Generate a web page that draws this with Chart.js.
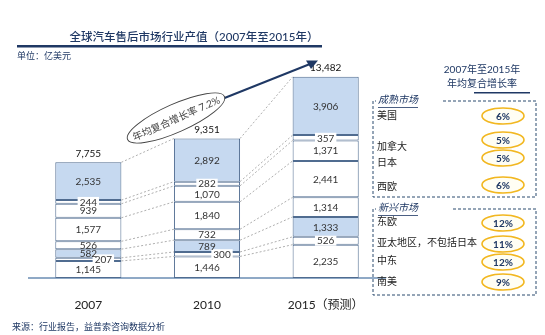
<!DOCTYPE html>
<html>
<head>
<meta charset="utf-8">
<script src="https://cdn.jsdelivr.net/npm/chart.js@4"></script>
<style>
  html, body { margin: 0; padding: 0; background: #fff; }
  #wrap { width: 545px; height: 335px; }
</style>
</head>
<body>
<div id="wrap"><canvas id="chart" width="545" height="335"></canvas></div>
<script>
// values in 亿美元, bottom segment first
const years = ['2007', '2010', '2015（预测）'];
const southAmerica = [1145, 1446, 2235];
const middleEast = [207, 300, 526];
const asiaPacific = [582, 789, 1333];
const easternEurope = [526, 732, 1314];
const westernEurope = [1577, 1840, 2441];
const japan = [939, 1070, 1371];
const canada = [244, 282, 357];
const usa = [2535, 2892, 3906];
const totals = [7755, 9351, 13482];

const matureMarkets = ['美国', '加拿大', '日本', '西欧'];
const matureCagr = ['6%', '5%', '5%', '6%'];
const emergingMarkets = ['东欧', '亚太地区，不包括日本', '中东', '南美'];
const emergingCagr = ['12%', '11%', '12%', '9%'];
const overallCagr = '年均复合增长率 7.2%';

const FONT = "Lato, 'Noto Sans CJK SC', sans-serif";
const NAVY = '#1f3864';
const BLUE_FILL = '#c6d9f0';

// label tweaks for the thin segments (x offset, white box)
const labelStyle = {
  '中东': { dx: [15, 15, 0], box: true },
  '加拿大': { dx: [0, 0, 0], box: true }
};

function ds(label, data, fill) {
  return {
    label: label,
    data: data,
    backgroundColor: fill,
    borderColor: '#506c90',
    borderWidth: 1,
    borderSkipped: false
  };
}

const datasets = [
  ds('南美', southAmerica, '#fff'),
  ds('中东', middleEast, '#fff'),
  ds('亚太地区', asiaPacific, BLUE_FILL),
  ds('东欧', easternEurope, '#fff'),
  ds('西欧', westernEurope, '#fff'),
  ds('日本', japan, '#fff'),
  ds('加拿大', canada, '#fff'),
  ds('美国', usa, BLUE_FILL)
];

function fmt(n) {
  return n.toLocaleString('en-US');
}

function oval(ctx, cx, cy, text) {
  ctx.save();
  ctx.beginPath();
  ctx.ellipse(cx, cy, 21, 8, 0, 0, Math.PI * 2);
  ctx.fillStyle = '#fffef4';
  ctx.fill();
  ctx.strokeStyle = '#f2b720';
  ctx.lineWidth = 1.6;
  ctx.stroke();
  ctx.fillStyle = NAVY;
  ctx.font = 'bold 10px ' + FONT;
  ctx.textAlign = 'center';
  ctx.textBaseline = 'middle';
  ctx.fillText(text, cx, cy + 0.5);
  ctx.restore();
}

function dashedBox(ctx, x1, y1, x2, y2, title, gapEnd) {
  ctx.save();
  ctx.strokeStyle = '#2a4a6e';
  ctx.lineWidth = 1;
  ctx.setLineDash([3, 2]);
  ctx.beginPath();
  ctx.moveTo(gapEnd, y1);
  ctx.lineTo(x2, y1);
  ctx.lineTo(x2, y2);
  ctx.lineTo(x1, y2);
  ctx.lineTo(x1, y1);
  ctx.lineTo(x1 + 3, y1);
  ctx.stroke();
  ctx.setLineDash([]);
  ctx.font = 'italic 10px ' + FONT;
  ctx.fillStyle = NAVY;
  ctx.textAlign = 'left';
  ctx.textBaseline = 'middle';
  ctx.fillText(title, x1 + 5, y1 - 1);
  const w = ctx.measureText(title).width;
  ctx.fillRect(x1 + 5, y1 + 6, w, 0.8);
  ctx.restore();
}

const decorations = {
  id: 'decorations',
  beforeDatasetsDraw(chart) {
    // series lines between bars
    const ctx = chart.ctx;
    ctx.save();
    ctx.strokeStyle = '#9a9a9a';
    ctx.lineWidth = 0.8;
    ctx.setLineDash([2, 2]);
    chart.data.datasets.forEach((d, i) => {
      const bars = chart.getDatasetMeta(i).data;
      for (let j = 0; j < bars.length - 1; j++) {
        const a = bars[j], b = bars[j + 1];
        ctx.beginPath();
        ctx.moveTo(a.x + a.width / 2, a.y);
        ctx.lineTo(b.x - b.width / 2, b.y);
        ctx.stroke();
      }
    });
    ctx.restore();
  },
  afterDatasetsDraw(chart) {
    const ctx = chart.ctx;
    ctx.save();
    ctx.font = '10px ' + FONT;
    ctx.textAlign = 'center';
    ctx.textBaseline = 'middle';
    chart.data.datasets.forEach((d, i) => {
      const bars = chart.getDatasetMeta(i).data;
      const st = labelStyle[d.label];
      bars.forEach((bar, j) => {
        const txt = fmt(d.data[j]);
        const x = bar.x + (st ? st.dx[j] : 0);
        const y = (bar.y + bar.base) / 2;
        if (st && st.box) {
          const w = ctx.measureText(txt).width + 4;
          ctx.fillStyle = '#fff';
          ctx.fillRect(x - w / 2, y - 5, w, 10);
        }
        ctx.fillStyle = '#333';
        ctx.fillText(txt, x, y + 0.5);
      });
    });
    // totals
    const top = chart.getDatasetMeta(chart.data.datasets.length - 1).data;
    ctx.fillStyle = '#111';
    top.forEach((bar, j) => {
      ctx.fillText(fmt(totals[j]), bar.x, bar.y - 9);
    });
    ctx.restore();
  },
  afterDraw(chart) {
    const ctx = chart.ctx;
    ctx.save();
    // title
    ctx.fillStyle = NAVY;
    ctx.font = '500 11.5px ' + FONT;
    ctx.textAlign = 'center';
    ctx.textBaseline = 'middle';
    ctx.fillText('全球汽车售后市场行业产值（2007年至2015年）', 194, 37);
    ctx.fillRect(17, 45, 305, 2.5);
    ctx.font = '9px ' + FONT;
    ctx.textAlign = 'left';
    ctx.fillText('单位：亿美元', 17, 56);
    ctx.fillText('来源：行业报告，益普索咨询数据分析', 12, 327);

    // growth arrow
    ctx.strokeStyle = NAVY;
    ctx.lineWidth = 2;
    ctx.beginPath();
    ctx.moveTo(222, 99);
    ctx.lineTo(310, 64);
    ctx.stroke();
    ctx.beginPath();
    ctx.moveTo(318, 60.5);
    ctx.lineTo(306, 60.5);
    ctx.lineTo(311, 69);
    ctx.closePath();
    ctx.fillStyle = NAVY;
    ctx.fill();

    ctx.translate(176, 118);
    ctx.rotate(-24 * Math.PI / 180);
    ctx.beginPath();
    ctx.ellipse(0, 0, 53, 14, 0, 0, Math.PI * 2);
    ctx.fillStyle = '#fff';
    ctx.fill();
    ctx.strokeStyle = '#444';
    ctx.lineWidth = 0.9;
    ctx.stroke();
    ctx.fillStyle = '#444';
    ctx.font = '10px ' + FONT;
    ctx.textAlign = 'center';
    ctx.fillText(overallCagr, 0, 1);
    ctx.setTransform(1, 0, 0, 1, 0, 0);

    // right panel
    ctx.fillStyle = NAVY;
    ctx.font = '10px ' + FONT;
    ctx.textAlign = 'center';
    ctx.fillText('2007年至2015年', 482, 70);
    ctx.fillText('年均复合增长率', 482, 84);
    ctx.fillRect(474, 92, 56, 1.5);

    dashedBox(ctx, 373, 101, 536, 197, '成熟市场', 443);
    dashedBox(ctx, 373, 209, 536, 295, '新兴市场', 453);

    const matureY = [116, 147, 163, 187];
    const matureOvalY = [116, 140, 158, 185];
    const emergingY = [222, 243, 261, 282];
    const emergingOvalY = [223, 244, 262, 282];
    ctx.font = '10px ' + FONT;
    ctx.textAlign = 'left';
    ctx.fillStyle = '#222';
    matureMarkets.forEach((m, i) => ctx.fillText(m, 377, matureY[i]));
    emergingMarkets.forEach((m, i) => ctx.fillText(m, 377, emergingY[i]));
    matureCagr.forEach((c, i) => oval(ctx, 503, matureOvalY[i], c));
    emergingCagr.forEach((c, i) => oval(ctx, 503, emergingOvalY[i], c));
    ctx.restore();
  }
};

new Chart(document.getElementById('chart'), {
  type: 'bar',
  data: { labels: years, datasets: datasets },
  options: {
    responsive: false,
    animation: false,
    layout: { padding: { left: 29, right: 160, top: 39.3, bottom: 10.6 } },
    plugins: { legend: { display: false }, tooltip: { enabled: false } },
    datasets: { bar: { barPercentage: 1, categoryPercentage: 0.557 } },
    scales: {
      x: {
        stacked: true,
        grid: { display: false },
        border: { color: '#8fa9c6', width: 2 },
        ticks: { color: '#222', font: { family: FONT, size: 12 }, padding: 12 }
      },
      y: {
        stacked: true,
        display: false,
        min: 0,
        max: 16000
      }
    }
  },
  plugins: [decorations]
});
</script>
</body>
</html>
